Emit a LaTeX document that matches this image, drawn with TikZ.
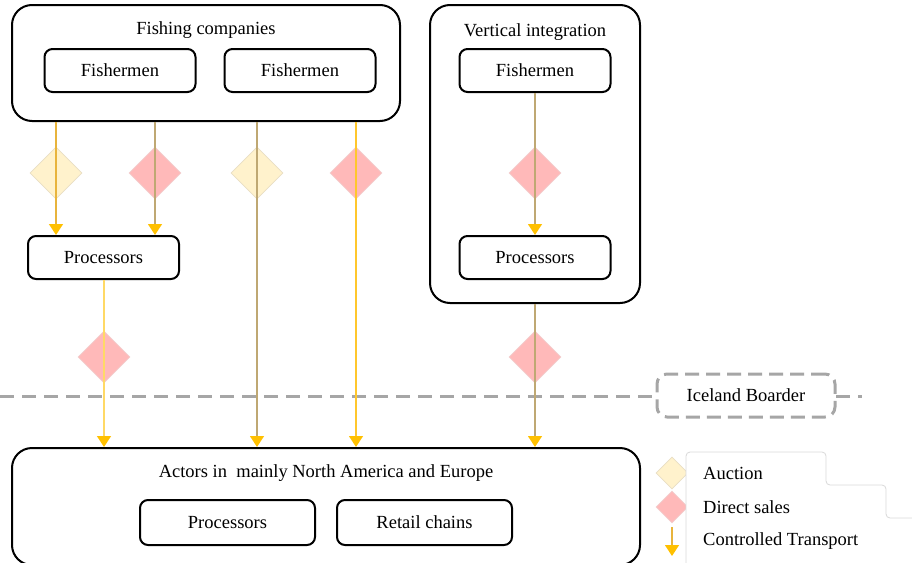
\documentclass[tikz,border=0pt]{standalone}
\usepackage{fontspec}
\setmainfont{Liberation Serif}
\usetikzlibrary{shapes.geometric,arrows.meta}
\definecolor{tan}{HTML}{BFA873}
\definecolor{goldA}{HTML}{E8B43C}
\definecolor{goldB}{HTML}{FFC72C}
\definecolor{goldC}{HTML}{FFD966}
\definecolor{tipc}{HTML}{FFC000}
\definecolor{auc}{HTML}{FFF2CC}
\definecolor{aucb}{HTML}{E8DEC4}
\definecolor{dir}{HTML}{FFB9B9}
\definecolor{dirb}{HTML}{F2D0D0}
\definecolor{dashc}{HTML}{A6A6A6}
\definecolor{legb}{HTML}{D9D9D9}
\tikzset{
  every node/.style={font=\fontsize{18.5}{22}\selectfont},
  bigbox/.style={draw=black, line width=2pt, rounded corners=20pt, inner sep=0pt},
  smallbox/.style={draw=black, line width=2pt, rounded corners=8pt, minimum width=151pt, minimum height=43pt, inner sep=0pt},
  auction/.style={diamond, fill=auc, draw=aucb, line width=0.6pt, minimum width=52pt, minimum height=52pt, inner sep=0pt},
  direct/.style={diamond, fill=dir, draw=dirb, line width=0.6pt, minimum width=52pt, minimum height=52pt, inner sep=0pt},
  flow/.style={line width=1.3pt, -{Triangle[width=14pt,length=11pt,color=tipc]}},
  title/.style={inner sep=0pt, anchor=center}
}
\begin{document}
\begin{tikzpicture}[x=1pt,y=-1pt]
\useasboundingbox (0,0) rectangle (912,562);
\begin{scope}
\clip (0,0) rectangle (912,562);
% big containers
\node[bigbox, minimum width=388pt, minimum height=116pt] (fc) at (206,63) {};
\node[title] (fct) at (206,30) {Fishing companies};
\node[smallbox] (f1) at (120,70.5) {Fishermen};
\node[smallbox] (f2) at (300,70.5) {Fishermen};

\node[bigbox, minimum width=210pt, minimum height=298pt] (vi) at (535,154) {};
\node[title] (vit) at (535,32) {Vertical integration};
\node[smallbox] (f3) at (535,70.5) {Fishermen};
\node[smallbox] (p3) at (535,257.5) {Processors};

\node[smallbox] (p1) at (103.5,257.5) {Processors};

\node[bigbox, minimum width=628pt, minimum height=117pt] (ac) at (326,506.5) {};
\node[title] (act) at (326,473) {Actors in\ \ mainly North America and Europe};
\node[smallbox, minimum width=175pt, minimum height=45pt] (p2) at (227.5,522.5) {Processors};
\node[smallbox, minimum width=175pt, minimum height=45pt] (rc) at (424.5,522.5) {Retail chains};

% border line
\coordinate (bl) at (0,396);
\coordinate (br) at (862,396);
\draw[dashc, line width=3pt, dash pattern=on 14pt off 8pt] (bl) -- (br);
\node[draw=dashc, line width=3pt, dash pattern=on 14pt off 7pt, rounded corners=10pt, fill=white, minimum width=178pt, minimum height=43pt, inner sep=0pt] (ib) at (746,395.5) {Iceland Boarder};

% diamonds
\node[auction] (d1) at (56,173) {};
\node[direct]  (d2) at (155,173) {};
\node[auction] (d3) at (257,173) {};
\node[direct]  (d4) at (356,173) {};
\node[direct]  (d5) at (535,173) {};
\node[direct]  (d6) at (104,357) {};
\node[direct]  (d7) at (535,357) {};

% connectors
\draw[flow, goldA] (fc.south -| d1) -- (p1.north -| d1);
\draw[flow, tan] (fc.south -| d2) -- (p1.north -| d2);
\draw[flow, tan] (fc.south -| d3) -- (ac.north -| d3);
\draw[flow, goldB] (fc.south -| d4) -- (ac.north -| d4);
\draw[flow, tan] (f3.south) -- (p3.north);
\draw[flow, goldC] (p1.south -| d6) -- (ac.north -| d6);
\draw[flow, tan] (vi.south -| d7) -- (ac.north -| d7);

% legend
\node[auction, minimum width=32pt, minimum height=32pt] (la) at (672,473) {};
\node[direct, minimum width=32pt, minimum height=32pt] (ld) at (672,507) {};
\filldraw[fill=white, draw=legb, line width=0.8pt, rounded corners=4pt] (686,570) -- (686,452) -- (826,452) -- (826,485) -- (886,485) -- (886,518) -- (920,518) -- (920,570) -- cycle;
\coordinate (lt1) at (672,527);
\coordinate (lt2) at (672,556);
\draw[flow, goldA] (lt1) -- (lt2);
\node[anchor=west, inner sep=0pt] (lat) at (703,473) {Auction};
\node[anchor=west, inner sep=0pt] (ldt) at (703,507) {Direct sales};
\node[anchor=west, inner sep=0pt] (ltt) at (703,541) {Controlled Transport};
\end{scope}
\end{tikzpicture}
\end{document}
